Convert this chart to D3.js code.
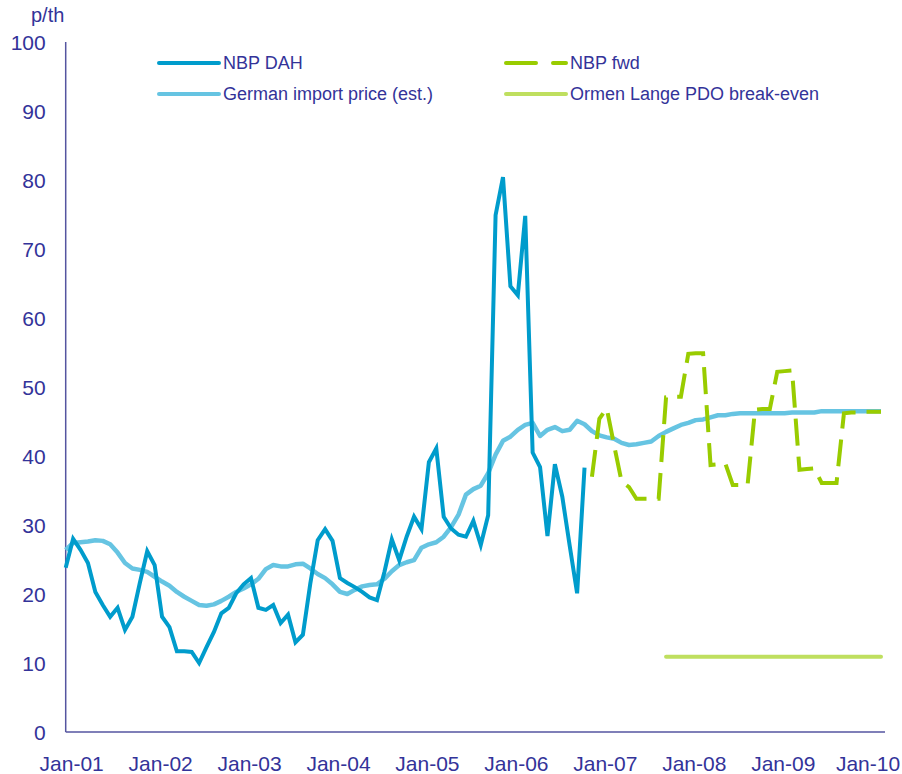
<!DOCTYPE html>
<html>
<head>
<meta charset="utf-8">
<script src="https://cdn.jsdelivr.net/npm/d3@7"></script>
<style>
body { margin: 0; background: #fff; }
svg { display: block; font-family: "Liberation Sans", Arial, sans-serif; }
.axis-text { fill: #333399; }
</style>
</head>
<body>
<div id="chart"></div>
<script>
// months counted from Jan-01 (index 0)
var tickLabels = ["Jan-01", "Jan-02", "Jan-03", "Jan-04", "Jan-05", "Jan-06", "Jan-07", "Jan-08", "Jan-09", "Jan-10"];
var yTicks = [0, 10, 20, 30, 40, 50, 60, 70, 80, 90, 100];

// NBP DAH, Jan-01 .. Nov-06
var nbpDah = [23.8, 28.0, 26.4, 24.5, 20.3, 18.4, 16.7, 18.0, 14.8, 16.7, 21.6, 26.2,
	24.2, 16.7, 15.2, 11.7, 11.7, 11.6, 10.0, 12.3, 14.5, 17.2, 18.0, 20.1,
	21.4, 22.3, 18.0, 17.7, 18.4, 15.8, 17.0, 13.0, 14.1, 21.5, 27.8, 29.4,
	27.7, 22.3, 21.6, 21.0, 20.3, 19.5, 19.1, 23.2, 27.9, 24.9, 28.3, 31.2,
	29.4, 39.1, 41.1, 31.2, 29.5, 28.6, 28.3, 30.6, 27.1, 31.4, 74.9, 80.4,
	64.6, 63.3, 74.8, 40.5, 38.4, 28.4, 38.8, 34.1, 27.0, 20.1, 38.3];

// German import price (est.), Jan-01 .. Mar-10
var germanImport = [26.4, 27.4, 27.5, 27.6, 27.8, 27.7, 27.2, 26.0, 24.5, 23.7, 23.5, 23.2,
	22.5, 21.8, 21.2, 20.3, 19.6, 19.0, 18.4, 18.3, 18.5, 19.0, 19.6, 20.3,
	20.8, 21.4, 22.2, 23.6, 24.2, 24.0, 24.0, 24.3, 24.4, 23.7, 22.9, 22.3,
	21.4, 20.3, 20.0, 20.6, 21.1, 21.3, 21.4, 22.2, 23.3, 24.2, 24.6, 24.9,
	26.7, 27.2, 27.5, 28.3, 29.7, 31.5, 34.4, 35.2, 35.7, 37.5, 40.2, 42.2,
	42.8, 43.8, 44.5, 44.8, 42.9, 43.8, 44.2, 43.6, 43.8, 45.1, 44.6, 43.6,
	43.0, 42.7, 42.5, 41.9, 41.6, 41.7, 41.9, 42.1, 42.9, 43.5, 44.0, 44.5,
	44.8, 45.2, 45.3, 45.6, 45.9, 45.9, 46.1, 46.2, 46.2, 46.2, 46.2, 46.2,
	46.2, 46.2, 46.3, 46.3, 46.3, 46.3, 46.5, 46.5, 46.5, 46.5, 46.5, 46.5,
	46.5, 46.5, 46.5];

// NBP fwd, Dec-06 .. Mar-10
var fwdStart = 71;
var nbpFwd = [37.0, 45.4, 46.9, 41.5, 36.3, 35.5, 33.8, 33.8, 33.8, 33.8, 48.5, 48.6,
	48.6, 54.8, 54.9, 54.9, 38.7, 38.8, 38.9, 35.8, 35.8, 35.8, 46.7, 46.8,
	46.8, 52.2, 52.3, 52.4, 38.0, 38.1, 38.2, 36.1, 36.1, 36.1, 46.2, 46.3,
	46.3, 46.4, 46.4, 46.4];

// Ormen Lange PDO break-even, Oct-07 .. Mar-10
var breakEvenStart = 81;
var breakEvenEnd = 110;
var breakEven = 10.9;

var W = 902, H = 774;
var svg = d3.select("#chart").append("svg")
	.attr("width", W)
	.attr("height", H);

var xScale = d3.scaleLinear().domain([0, 110]).range([65.7, 881]);
var yScale = d3.scaleLinear().domain([0, 100]).range([732, 42]);

var navy = "#333399";

// y axis
var yAxis = d3.axisLeft(yScale).tickValues(yTicks).tickSize(0).tickPadding(20);
var gy = svg.append("g")
	.attr("transform", "translate(" + xScale(0) + ",0)")
	.call(yAxis);
gy.select(".domain").attr("stroke", "#5555a0").attr("stroke-width", 1.5)
	.attr("d", "M0," + yScale(100) + "V" + yScale(0));
gy.selectAll("text")
	.attr("fill", navy)
	.style("font-size", "21px")
	.attr("dy", "0.35em");

// x axis
svg.append("line")
	.attr("x1", xScale(0)).attr("x2", 885)
	.attr("y1", yScale(0)).attr("y2", yScale(0))
	.attr("stroke", "#5555a0")
	.attr("stroke-width", 1.5);

svg.append("g").selectAll("text")
	.data(tickLabels)
	.enter()
	.append("text")
	.attr("class", "axis-text")
	.attr("x", function(d, i) { return Math.min(xScale(i * 12) + 6, W - 34); })
	.attr("y", 771)
	.attr("text-anchor", "middle")
	.style("font-size", "21px")
	.text(function(d) { return d; });

// unit label
svg.append("text")
	.attr("class", "axis-text")
	.attr("x", 31)
	.attr("y", 22)
	.style("font-size", "20px")
	.text("p/th");

var line = d3.line()
	.x(function(d) { return xScale(d[0]); })
	.y(function(d) { return yScale(d[1]); });

var withIndex = function(arr, start) {
	return arr.map(function(v, i) { return [start + i, v]; });
};

// break-even
svg.append("path")
	.datum([[breakEvenStart, breakEven], [breakEvenEnd, breakEven]])
	.attr("d", line)
	.attr("fill", "none")
	.attr("stroke", "#bfdf5f")
	.attr("stroke-width", 4)
	.attr("stroke-linecap", "round");

// German import price
svg.append("path")
	.datum(withIndex(germanImport, 0))
	.attr("d", line)
	.attr("fill", "none")
	.attr("stroke", "#66c4e2")
	.attr("stroke-width", 4.5)
	.attr("stroke-linejoin", "round");

// NBP DAH
svg.append("path")
	.datum(withIndex(nbpDah, 0))
	.attr("d", line)
	.attr("fill", "none")
	.attr("stroke", "#009ccc")
	.attr("stroke-width", 4)
	.attr("stroke-linejoin", "miter");

// NBP fwd
svg.append("path")
	.datum(withIndex(nbpFwd, fwdStart))
	.attr("d", line)
	.attr("fill", "none")
	.attr("stroke", "#99cc00")
	.attr("stroke-width", 4)
	.attr("stroke-dasharray", "27,11");

// legend
var legend = [
	{name: "NBP DAH", color: "#009ccc", x: 159, y: 63, dash: null},
	{name: "German import price (est.)", color: "#66c4e2", x: 159, y: 94, dash: null},
	{name: "NBP fwd", color: "#99cc00", x: 506, y: 63, dash: "30,17"},
	{name: "Ormen Lange PDO break-even", color: "#bfdf5f", x: 506, y: 94, dash: null}
];

var lg = svg.append("g").selectAll("g")
	.data(legend)
	.enter()
	.append("g");

lg.append("line")
	.attr("x1", function(d) { return d.x; })
	.attr("x2", function(d) { return d.x + 60; })
	.attr("y1", function(d) { return d.y; })
	.attr("y2", function(d) { return d.y; })
	.attr("stroke", function(d) { return d.color; })
	.attr("stroke-width", 4)
	.attr("stroke-linecap", "round")
	.attr("stroke-dasharray", function(d) { return d.dash; });

lg.append("text")
	.attr("class", "axis-text")
	.attr("x", function(d) { return d.x + 64; })
	.attr("y", function(d) { return d.y; })
	.attr("dy", "0.35em")
	.style("font-size", "18px")
	.text(function(d) { return d.name; });
</script>
</body>
</html>
